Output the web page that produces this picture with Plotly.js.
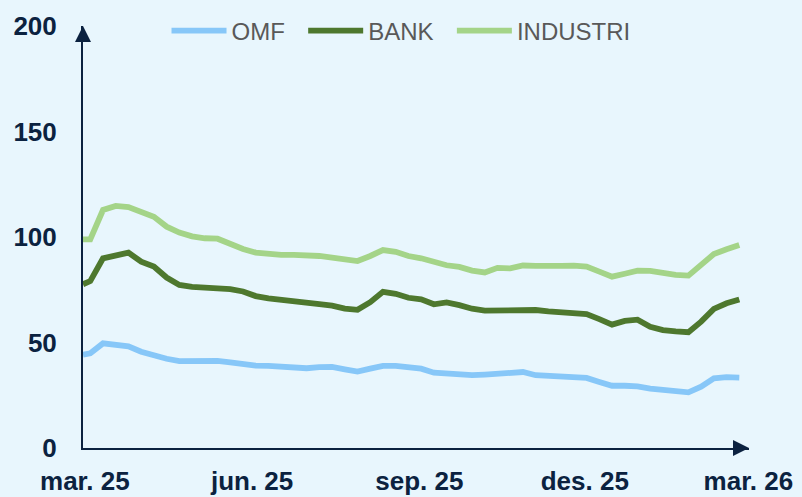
<!DOCTYPE html>
<html>
<head>
<meta charset="utf-8">
<script src="https://cdn.plot.ly/plotly-3.0.1.min.js"></script>
<style>
  html, body { margin: 0; padding: 0; background: #e8f6fd; }
  #chart { width: 802px; height: 497px; }
</style>
</head>
<body>
<div id="chart"></div>
<script>
// Weekly observations (first point end of February, then weekly)
const dates = [
  '2025-02-28',
  '2025-03-04','2025-03-11','2025-03-18','2025-03-25',
  '2025-04-01','2025-04-08','2025-04-15','2025-04-22','2025-04-29',
  '2025-05-06','2025-05-13','2025-05-20','2025-05-27',
  '2025-06-03','2025-06-10','2025-06-17','2025-06-24',
  '2025-07-01','2025-07-08','2025-07-15','2025-07-22','2025-07-29',
  '2025-08-05','2025-08-12','2025-08-19','2025-08-26',
  '2025-09-02','2025-09-09','2025-09-16','2025-09-23','2025-09-30',
  '2025-10-07','2025-10-14','2025-10-21','2025-10-28',
  '2025-11-04','2025-11-11','2025-11-18','2025-11-25',
  '2025-12-02','2025-12-09','2025-12-16','2025-12-23','2025-12-30',
  '2026-01-06','2026-01-13','2026-01-20','2026-01-27',
  '2026-02-03','2026-02-10','2026-02-17','2026-02-24'
];

const omf = [
  44.2, 44.9, 49.6, 49.0, 48.2, 45.6, 43.7, 42.3, 41.2, 41.2, 41.3, 41.3, 40.6, 39.6, 39.0, 38.9, 38.7, 38.4,
  37.8, 38.3, 38.4, 37.3, 36.2, 37.6, 38.9, 38.9, 38.4, 37.6, 35.7, 35.3, 34.9, 34.5, 34.8, 35.2, 35.4,
  36.0, 34.5, 34.3, 34.1, 34.0, 33.2, 31.3, 29.5, 29.5, 29.2, 28.1, 27.6, 27.0, 26.4, 29.1, 33.0, 33.6, 33.4
];

const bank = [
  77.6, 79.1, 89.9, 91.0, 92.6, 88.3, 86.0, 80.8, 77.3, 76.4, 76.1, 75.9, 75.3, 74.2, 72.0, 70.9, 70.3, 70.0,
  68.8, 68.2, 67.5, 66.1, 65.5, 69.1, 74.0, 73.1, 71.2, 70.5, 68.1, 69.0, 67.7, 66.0, 65.1, 65.1, 65.7,
  65.7, 65.4, 64.8, 64.3, 63.7, 63.5, 61.1, 58.5, 60.2, 60.8, 57.5, 55.9, 55.3, 54.9, 59.9, 65.9, 68.6, 70.4
];

const industri = [
  98.9, 98.9, 112.8, 114.7, 114.2, 111.7, 109.6, 104.9, 102.1, 100.3, 99.4, 99.2, 96.5, 94.3, 92.6, 91.9, 91.5, 91.5,
  91.3, 91.0, 90.2, 89.4, 88.6, 91.0, 93.8, 93.0, 91.0, 89.9, 88.3, 86.6, 85.8, 84.1, 83.2, 85.4, 85.1,
  86.5, 86.3, 86.1, 86.3, 86.4, 86.0, 83.6, 81.2, 82.6, 84.0, 83.9, 82.9, 82.0, 81.7, 86.6, 91.9, 94.2, 96.2
];

const seriesNames = ['OMF', 'BANK', 'INDUSTRI'];
const seriesColors = ['#87c7f8', '#4e782e', '#a4d488'];

const xTickVals = ['2025-03-01', '2025-06-01', '2025-09-01', '2025-12-01', '2026-03-01'];
const xTickText = ['mar. 25', 'jun. 25', 'sep. 25', 'des. 25', 'mar. 26'];
const yTickVals = [0, 50, 100, 150, 200];

const navy = '#0b2240';
const bg = '#e8f6fd';
const fontFam = '"Liberation Sans", Arial, Helvetica, sans-serif';
const legendPad = '\u00a0\u00a0';

const seriesData = [omf, bank, industri];
const traces = seriesData.map((vals, i) => ({
  type: 'scatter',
  mode: 'lines',
  x: dates,
  y: vals,
  name: seriesNames[i] + (i < seriesNames.length - 1 ? legendPad : ''),
  line: { color: seriesColors[i], width: 5.8 },
  hoverinfo: 'skip'
}));

const layout = {
  width: 802,
  height: 497,
  margin: { l: 83, r: 53, t: 26, b: 49, pad: 0, autoexpand: false },
  paper_bgcolor: bg,
  plot_bgcolor: bg,
  showlegend: true,
  legend: {
    orientation: 'h',
    x: 0.1254,
    xanchor: 'left',
    y: 0.988,
    yanchor: 'middle',
    font: { family: fontFam, size: 24, color: '#595959' },
    bgcolor: 'rgba(0,0,0,0)',
    itemwidth: 55,
    traceorder: 'normal'
  },
  xaxis: {
    type: 'date',
    range: ['2025-02-28', '2026-03-01 08:00'],
    tickmode: 'array',
    tickvals: xTickVals,
    ticktext: xTickText,
    showgrid: false,
    zeroline: false,
    showline: true,
    linecolor: navy,
    linewidth: 2,
    ticks: '',
    ticklabelstandoff: 9,
    tickfont: { family: fontFam, size: 26, color: navy, weight: 700 },
    fixedrange: true
  },
  yaxis: {
    range: [0, 200],
    tickmode: 'array',
    tickvals: yTickVals,
    showgrid: false,
    zeroline: false,
    showline: true,
    linecolor: navy,
    linewidth: 2,
    ticks: '',
    ticklabelstandoff: 19,
    tickfont: { family: fontFam, size: 26, color: navy, weight: 700 },
    fixedrange: true
  },
  annotations: [
    {
      xref: 'paper', yref: 'paper', x: 0, y: 1,
      ax: 0, ay: 16, text: '', showarrow: true,
      arrowhead: 2, arrowsize: 1.6, arrowwidth: 2, arrowcolor: navy
    },
    {
      xref: 'paper', yref: 'paper', x: 1, y: 0,
      ax: -16, ay: 0, text: '', showarrow: true,
      arrowhead: 2, arrowsize: 1.6, arrowwidth: 2, arrowcolor: navy
    }
  ]
};

Plotly.newPlot('chart', traces, layout, { staticPlot: true, displayModeBar: false });
</script>
</body>
</html>
